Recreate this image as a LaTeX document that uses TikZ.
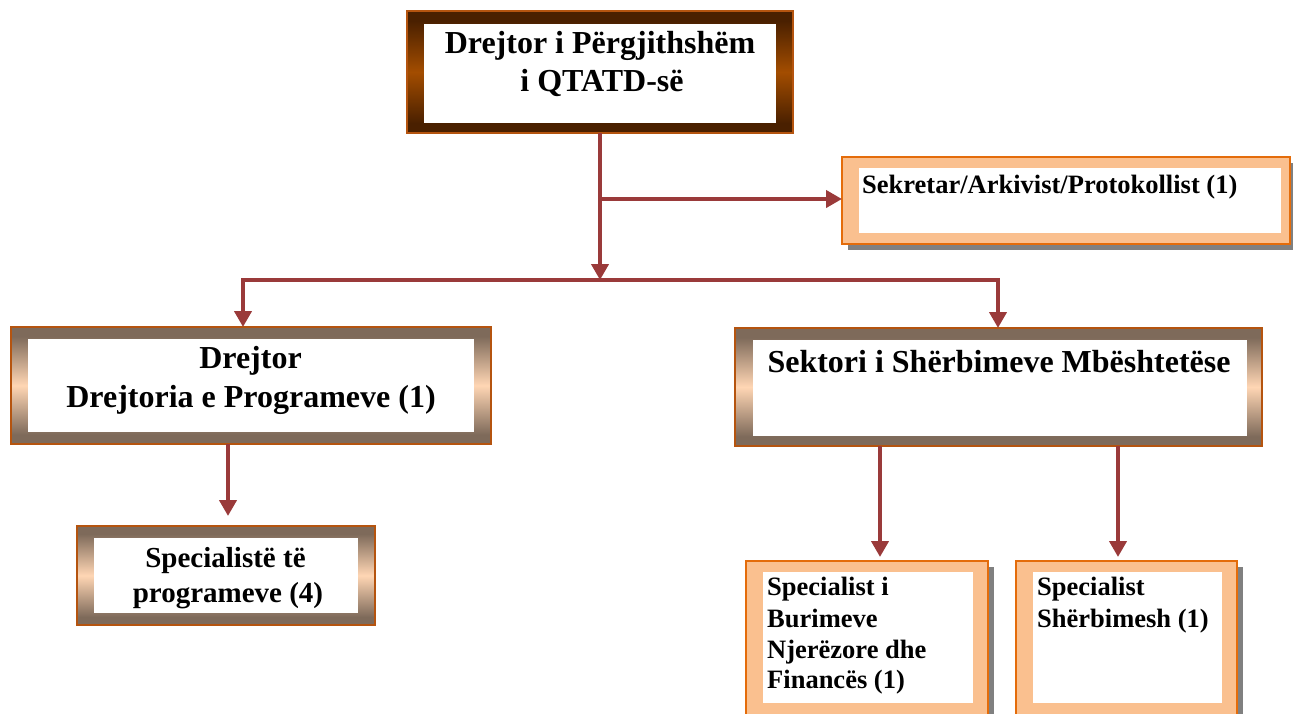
\documentclass[tikz,border=0pt]{standalone}
\usepackage{fontspec}
\setmainfont{Liberation Serif}
\usetikzlibrary{arrows.meta}
\definecolor{arrc}{HTML}{9A3A3A}
\definecolor{peach}{HTML}{FAC08F}
\definecolor{orangeline}{HTML}{E46C0A}
\definecolor{darkbrown}{HTML}{4A2000}
\definecolor{midbrown}{HTML}{A34D00}
\definecolor{greybrown}{HTML}{7E6A5A}
\definecolor{lightpeach}{HTML}{FFD6B4}
\definecolor{frameline}{HTML}{B5540F}
\definecolor{shadowgrey}{HTML}{808080}
\pgfdeclareverticalshading{darkfr}{100bp}{color(0bp)=(darkbrown); color(29bp)=(darkbrown); color(50bp)=(midbrown); color(71bp)=(darkbrown); color(100bp)=(darkbrown)}
\pgfdeclareverticalshading{lightfr}{100bp}{color(0bp)=(greybrown); color(29bp)=(greybrown); color(50bp)=(lightpeach); color(71bp)=(greybrown); color(100bp)=(greybrown)}
\tikzset{
  box/.style={anchor=north west, inner sep=0pt, outer sep=0pt},
  darkframe/.style={box, draw=frameline, line width=1.2pt, shading=darkfr},
  lightframe/.style={box, draw=frameline, line width=1.2pt, shading=lightfr},
  peachframe/.style={box, draw=orangeline, line width=1.8pt, fill=peach},
  shadowbox/.style={box, fill=shadowgrey},
  whitebox/.style={box, fill=white},
  bigtxt/.style={anchor=base, inner sep=0pt, font=\fontsize{32}{38}\selectfont\bfseries},
  midtxt/.style={anchor=base, inner sep=0pt, font=\fontsize{29}{35}\selectfont\bfseries},
  smalltxt/.style={anchor=base west, inner sep=0pt, font=\fontsize{26.5}{31}\selectfont\bfseries},
  conn/.style={draw=arrc, line width=4pt},
  arr/.style={conn, -{Triangle[width=17pt,length=16pt]}},
}
\begin{document}
\begin{tikzpicture}[x=1pt,y=-1pt]
\useasboundingbox (0,0) rectangle (1293,713);
% top box
\node[darkframe, minimum width=386pt, minimum height=122pt] (top) at (407,11) {};
\node[whitebox, minimum width=352pt, minimum height=99pt] (topin) at (424,24) {};
\node[bigtxt] (topa) at (600,53) {Drejtor i Përgjithshëm};
\node[bigtxt] (topb) at (602,91) {i QTATD-së};
% secretary
\node[shadowbox, minimum width=448pt, minimum height=87pt] (secsh) at (848,163) {};
\node[peachframe, minimum width=448pt, minimum height=87pt] (sec) at (842,157) {};
\node[whitebox, minimum width=422pt, minimum height=65pt] (secin) at (859,168) {};
\node[smalltxt] (sect) at (862,193) {Sekretar/Arkivist/Protokollist (1)};
% left director box
\node[lightframe, minimum width=480pt, minimum height=117pt] (dl) at (11,327) {};
\node[whitebox, minimum width=446pt, minimum height=93pt] (dlin) at (28,339) {};
\node[bigtxt] (dla) at (250.5,368) {Drejtor};
\node[bigtxt] (dlb) at (251,407) {Drejtoria e Programeve (1)};
% sector box
\node[lightframe, minimum width=527pt, minimum height=118pt] (ss) at (735,328) {};
\node[whitebox, minimum width=494pt, minimum height=96pt] (ssin) at (753,340) {};
\node[bigtxt] (sst) at (999,372) {Sektori i Shërbimeve Mbështetëse};
% specialists of programmes
\node[lightframe, minimum width=298pt, minimum height=99pt] (sp) at (77,526) {};
\node[whitebox, minimum width=264pt, minimum height=75pt] (spin) at (94,538) {};
\node[midtxt] (spa) at (225.5,567) {Specialistë të};
\node[midtxt] (spb) at (228,602) {programeve (4)};
% bottom box 1
\node[shadowbox, minimum width=242pt, minimum height=160pt] (b1sh) at (752,567) {};
\node[peachframe, minimum width=242pt, minimum height=160pt] (b1) at (746,561) {};
\node[whitebox, minimum width=210pt, minimum height=131pt] (b1in) at (763,572) {};
\node[smalltxt] (b1a) at (767,595) {Specialist i};
\node[smalltxt] (b1b) at (767,627) {Burimeve};
\node[smalltxt] (b1c) at (767,658) {Njerëzore dhe};
\node[smalltxt] (b1d) at (767,688) {Financës (1)};
% bottom box 2
\node[shadowbox, minimum width=221pt, minimum height=160pt] (b2sh) at (1022,567) {};
\node[peachframe, minimum width=221pt, minimum height=160pt] (b2) at (1016,561) {};
\node[whitebox, minimum width=189pt, minimum height=131pt] (b2in) at (1033,572) {};
\node[smalltxt] (b2a) at (1037,595) {Specialist};
\node[smalltxt] (b2b) at (1037,627) {Shërbimesh (1)};
% connectors
\coordinate (bus) at (600,280);
\coordinate (br) at (600,199);
\coordinate (busL) at (243,280);
\coordinate (busR) at (998,280);
\draw[arr] (top.south) -- (bus);
\draw[arr] (br) -- (br -| sec.west);
\draw[conn, line join=miter] (busR) -- (busL) -- ++(0,20);
\draw[conn, line join=miter] (busL) -- (busR) -- ++(0,20);
\draw[arr] (busL) -- (busL |- dl.north);
\draw[arr] (busR) -- (busR |- ss.north);
\draw[arr, shorten >=10pt] (dl.south -| 228,0) -- (sp.north -| 228,0);
\draw[arr, shorten >=4pt] (ss.south -| 880,0) -- (b1.north -| 880,0);
\draw[arr, shorten >=4pt] (ss.south -| 1118,0) -- (b2.north -| 1118,0);
\end{tikzpicture}
\end{document}
